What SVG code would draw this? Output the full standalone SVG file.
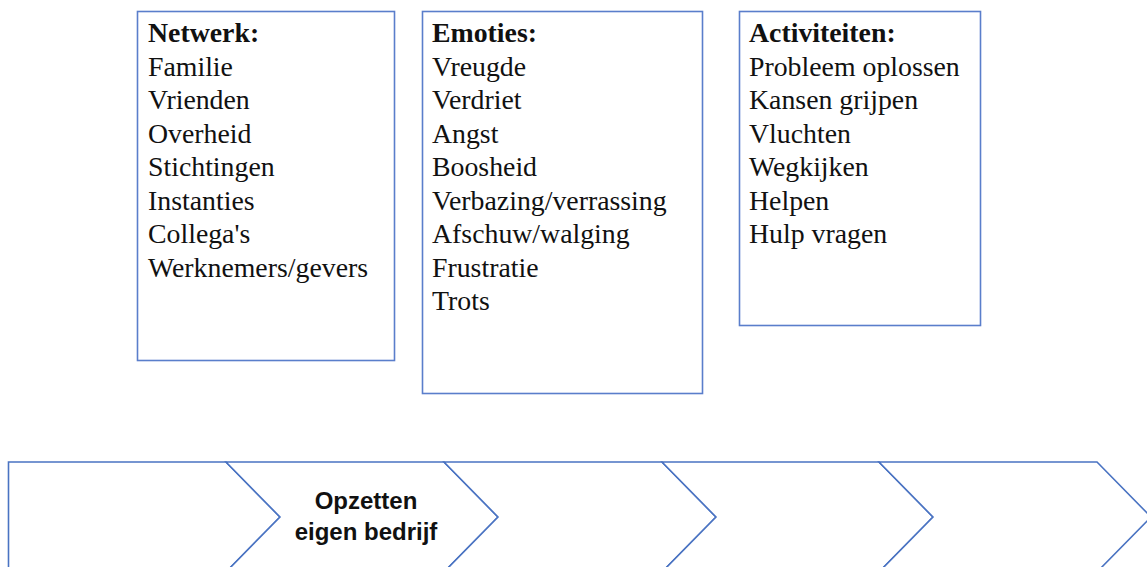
<svg xmlns="http://www.w3.org/2000/svg" width="1147" height="567" viewBox="0 0 1147 567">
<style>
.box{fill:#fff;stroke:#5a7ecb;stroke-width:1.6}
.chev{fill:#fff;stroke:#4a73c2;stroke-width:1.6;stroke-linejoin:miter}
.t{font-family:"Liberation Serif","Times New Roman",serif;font-size:27.8px;fill:#111}
.h{font-weight:bold}
.c{font-family:"Liberation Sans",Arial,sans-serif;font-size:24px;font-weight:bold;fill:#111;text-anchor:middle}
</style>
<rect width="1147" height="567" fill="#fff"/>
<g id="netwerk">
<rect class="box" x="137.5" y="11.5" width="257" height="349"/>
<text class="t" x="148">
<tspan class="h" x="148" y="42">Netwerk:</tspan>
<tspan x="148" y="75.5">Familie</tspan>
<tspan x="148" y="109">Vrienden</tspan>
<tspan x="148" y="142.5">Overheid</tspan>
<tspan x="148" y="176">Stichtingen</tspan>
<tspan x="148" y="209.5">Instanties</tspan>
<tspan x="148" y="243">Collega's</tspan>
<tspan x="148" y="276.5">Werknemers/gevers</tspan>
</text>
</g>
<g id="emoties">
<rect class="box" x="422.5" y="11.5" width="280" height="382"/>
<text class="t">
<tspan class="h" x="432" y="42">Emoties:</tspan>
<tspan x="432" y="75.5">Vreugde</tspan>
<tspan x="432" y="109">Verdriet</tspan>
<tspan x="432" y="142.5">Angst</tspan>
<tspan x="432" y="176">Boosheid</tspan>
<tspan x="432" y="209.5">Verbazing/verrassing</tspan>
<tspan x="432" y="243">Afschuw/walging</tspan>
<tspan x="432" y="276.5">Frustratie</tspan>
<tspan x="432" y="310">Trots</tspan>
</text>
</g>
<g id="activiteiten">
<rect class="box" x="739.5" y="11.5" width="241" height="314"/>
<text class="t">
<tspan class="h" x="749" y="42">Activiteiten:</tspan>
<tspan x="749" y="75.5">Probleem oplossen</tspan>
<tspan x="749" y="109">Kansen grijpen</tspan>
<tspan x="749" y="142.5">Vluchten</tspan>
<tspan x="749" y="176">Wegkijken</tspan>
<tspan x="749" y="209.5">Helpen</tspan>
<tspan x="749" y="243">Hulp vragen</tspan>
</text>
</g>
<g id="stap1">
<polygon class="chev" points="8.5,462 226,462 280,517 226,572 8.5,572"/>
</g>
<g id="stap2">
<polygon class="chev" points="226,462 444,462 498,517 444,572 226,572 280,517"/>
<text class="c" x="366" y="509">Opzetten</text>
<text class="c" x="366" y="540">eigen bedrijf</text>
</g>
<g id="stap3">
<polygon class="chev" points="444,462 662,462 716,517 662,572 444,572 498,517"/>
</g>
<g id="stap4">
<polygon class="chev" points="662,462 879,462 933,517 879,572 662,572 716,517"/>
</g>
<g id="stap5">
<polygon class="chev" points="879,462 1097,462 1151,517 1097,572 879,572 933,517"/>
</g>
<g id="connectors"></g>
</svg>
